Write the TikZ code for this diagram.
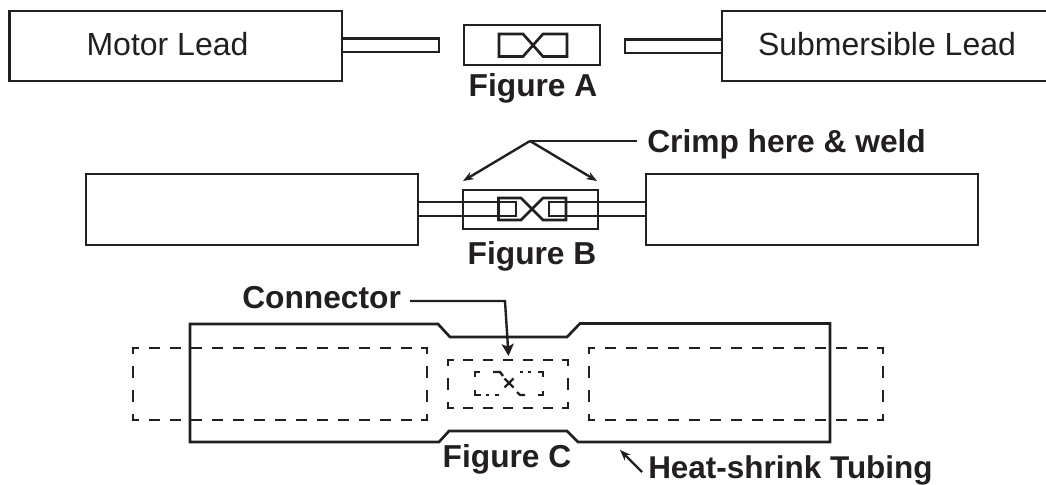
\documentclass[tikz,border=0pt]{standalone}
\usepackage{fontspec}
\setmainfont{Liberation Sans}
\usetikzlibrary{arrows.meta}
\definecolor{ink}{HTML}{231F20}
\def\px{0.75pt}
\tikzset{
  line/.style={draw=ink,line width=2pt,line join=miter},
  boxn/.style={line,rectangle,inner sep=0pt,outer sep=0pt,text=ink},
  thin line/.style={draw=ink,line width=1.8pt},
  dashseg/.style={draw=ink,line width=2pt,line join=miter},
  dots/.style={draw=ink,line width=1.8pt},
  plain/.style={font=\fontsize{24pt}{26pt}\selectfont,text=ink,inner sep=0pt,anchor=base},
  bold/.style={font=\fontsize{23.8pt}{26pt}\selectfont\bfseries,text=ink,inner sep=0pt,anchor=base},
  heatfont/.style={font=\fontsize{23.6pt}{26pt}\selectfont\bfseries,text=ink,inner sep=0pt,anchor=base west},
  tip/.style={-{Stealth[length=8pt,width=6pt]}},
  bigtip/.style={-{Stealth[length=9pt,width=9pt,inset=2pt]}},
}
% #1 x0, #2 y0, #3 x1, #4 y1, #5 first dash offset, #6 period, #7 dash length, #8 last index, #9 last vertical index
\newcommand\dashedframe[9]{%
  \draw[dashseg] (#1,#2+6) -- (#1,#2) -- (#1+6,#2);
  \draw[dashseg] (#3-6,#2) -- (#3,#2) -- (#3,#2+6);
  \draw[dashseg] (#1,#4-6) -- (#1,#4) -- (#1+6,#4);
  \draw[dashseg] (#3-6,#4) -- (#3,#4) -- (#3,#4-6);
  \foreach \k in {0,...,#8}{
    \draw[dashseg] ({#1+#5+#6*\k},#2) -- ++(#7,0);
    \draw[dashseg] ({#1+#5+#6*\k},#4) -- ++(#7,0);
  }
  \foreach \k in {0,...,#9}{
    \draw[dashseg] (#1,{#2+18+24*\k}) -- ++(0,12);
    \draw[dashseg] (#3,{#2+18+24*\k}) -- ++(0,12);
  }
}
\begin{document}
\begin{tikzpicture}[x=0.75pt,y=-0.75pt]
\useasboundingbox (0,0) rectangle (1046,485);
% Figure A
\node[boxn,minimum width=332.5*\px,minimum height=70*\px] (motorA) at (175.75,46) {};
\node[plain] (motorAtext) at (167.5,56) {Motor Lead};
\coordinate (subTR) at (1046,11); \coordinate (subTL) at (722,11);
\coordinate (subBL) at (722,81); \coordinate (subBR) at (1046,81);
\draw[line] (subTR) -- (subTL) -- (subBL) -- (subBR);
\node[plain] (subAtext) at (887,56) {Submersible Lead};
\node[boxn,minimum width=136*\px,minimum height=40*\px] (connA) at (532,45) {};
\coordinate (ta1) at (439,38.5); \coordinate (ta2) at (439,52);
\coordinate (tb1) at (625,39.5); \coordinate (tb2) at (625,53);
\draw[line] (motorA.east |- ta1) -- (ta1) -- (ta2) -- (motorA.east |- ta2);
\draw[line] (subTL |- tb1) -- (tb1) -- (tb2) -- (subTL |- tb2);
\draw[line] (523,34) -- (499,34) -- (499,56.5) -- (523,56.5) -- (543,34) -- (567,34) -- (567,56.5) -- (543,56.5) -- cycle;
\node[bold] (figA) at (533,97) {Figure A};
% Figure B
\node[boxn,minimum width=332*\px,minimum height=71*\px] (motorB) at (252,209.5) {};
\node[boxn,minimum width=332*\px,minimum height=71*\px] (subB) at (812,209.5) {};
\node[boxn,minimum width=135*\px,minimum height=39*\px] (connB) at (530.5,209.5) {};
\coordinate (l1) at (516,202); \coordinate (l2) at (516,216);
\coordinate (r1) at (549,202); \coordinate (r2) at (549,216);
\draw[line] (motorB.east |- l1) -- (l1) -- (l2) -- (motorB.east |- l2);
\draw[line] (subB.west |- r1) -- (r1) -- (r2) -- (subB.west |- r2);
\draw[line] (521,198) -- (498.5,198) -- (498.5,220) -- (521,220) -- (543,198) -- (566,198) -- (566,220) -- (543,220) -- cycle;
\node[bold] (figB) at (532,264) {Figure B};
\node[bold,anchor=base west] (crimp) at (647,152) {Crimp here \& weld};
\coordinate (apex) at (530,141);
\coordinate (ca) at (463,181); \coordinate (cb) at (597,181); \coordinate (cc) at (637,141);
\draw[thin line] (cc) -- (apex);
\draw[thin line,tip] (apex) -- (ca);
\draw[thin line,tip] (apex) -- (cb);
% Figure C
\draw[line] (190,324) -- (438,324) -- (450,337) -- (567,337) -- (580,323.5) -- (830,323.5) -- (830,442) -- (578,442) -- (567,431) -- (449,431) -- (439,442) -- (190,442) -- cycle;
\dashedframe{133}{348}{427}{420}{16}{21}{10.5}{12}{1}
\dashedframe{589}{348}{883}{420}{16}{21}{10.5}{12}{1}
\dashedframe{448}{360}{568}{408}{15}{20}{10}{4}{0}
\draw[dots] (475,377) -- (475,372) -- (480,372);
\draw[dots] (493,372) -- (500,372) -- (503,376);
\draw[dots] (504.5,378.5) -- (513.5,387.5);
\draw[dots] (504.5,387.5) -- (513.5,378.5);
\draw[dots] (520,372) -- (523,372);
\draw[dots] (528,372) -- (531,372);
\draw[dots] (538,372) -- (543,372) -- (543,377);
\draw[dots] (475,390) -- (475,395) -- (481,395);
\draw[dots] (486,395) -- (489,395);
\draw[dots] (495,395) -- (499,395);
\draw[dots] (517,392) -- (520,395) -- (525,395);
\draw[dots] (538,395) -- (543,395) -- (543,391);
\node[bold] (figC) at (507,467) {Figure C};
\node[bold,anchor=base west] (connlabel) at (242,308) {Connector};
\coordinate (cn1) at (410,301); \coordinate (cn2) at (505,301); \coordinate (cn3) at (508.5,356);
\draw[thin line,bigtip] (cn1) -- (cn2) -- (cn3);
\node[heatfont] (heat) at (648,478.3) {Heat-shrink Tubing};
\coordinate (h1) at (642,472); \coordinate (h2) at (620,450);
\draw[thin line,tip] (h1) -- (h2);
\end{tikzpicture}
\end{document}
